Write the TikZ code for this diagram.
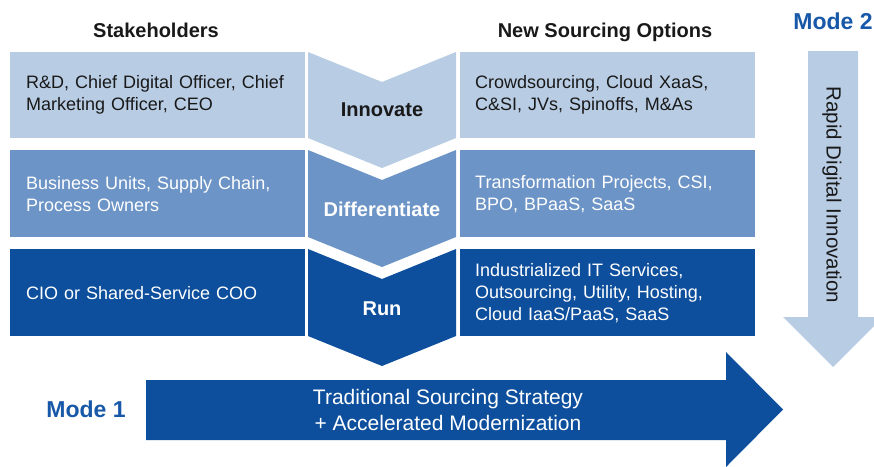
\documentclass[tikz,border=0pt]{standalone}
\usepackage{fontspec}
\setmainfont{Liberation Sans}
\definecolor{rowone}{RGB}{184,204,228}
\definecolor{rowtwo}{RGB}{108,148,198}
\definecolor{rowthree}{RGB}{13,79,156}
\definecolor{modeblue}{RGB}{24,88,168}
\definecolor{darktext}{RGB}{25,25,25}

\begin{document}
\begin{tikzpicture}[x=1pt,y=-1pt,
    celltext/.style={font=\fontsize{18}{22}\selectfont, align=left, anchor=west, text width=280pt, inner sep=0pt},
    steplabel/.style={font=\bfseries\fontsize{20}{24}\selectfont, inner sep=0pt},
    headlabel/.style={font=\bfseries\fontsize{20}{24}\selectfont, text=darktext, inner sep=0pt},
    modelabel/.style={font=\bfseries\fontsize{23}{27}\selectfont, text=modeblue, inner sep=0pt}]
    \clip(0,0)rectangle(874,466);
    \fill[white](0,0)rectangle(874,466);
    % rows of boxes and chevrons
    \fill[rowone](10,52)rectangle(305,138);
    \fill[rowone](460,52)rectangle(755,138);
    \fill[rowtwo](10,150)rectangle(305,237);
    \fill[rowtwo](460,150)rectangle(755,237);
    \fill[rowthree](10,249)rectangle(305,336);
    \fill[rowthree](460,249)rectangle(755,336);
    \foreach \t/\b/\c in {52/138/rowone,150/237/rowtwo,249/336/rowthree}
        \fill[\c](308,\t)--(382,\t+30)--(456,\t)--(456,\b)--(382,\b+30)--(308,\b)--cycle;
    % mode 2 arrow
    \fill[rowone](808,51)--(858,51)--(858,317)--(883,317)--(833,367)--(783,317)--(808,317)--cycle;
    % mode 1 arrow
    \fill[rowthree](146,380)--(726,380)--(726,352)--(783,409.5)--(726,467)--(726,440)--(146,440)--cycle;
    % texts
    \node[headlabel](stake)at(156,30){Stakeholders};
    \node[headlabel](newsrc)at(605,32){New Sourcing Options};
    \node[modelabel](modetwo)at(833,21){Mode 2};
    \node[modelabel](modeone)at(86,409){Mode 1};
    \node[celltext,text=darktext](rdcell)at(26,95){R\&D, Chief Digital Officer, Chief\\Marketing Officer, CEO};
    \node[celltext,text=white](bucell)at(26,194){Business Units, Supply Chain,\\Process Owners};
    \node[celltext,text=white](ciocell)at(26,293){CIO or Shared-Service COO};
    \node[celltext,text=darktext](crowdcell)at(475,95){Crowdsourcing, Cloud XaaS,\\C\&SI, JVs, Spinoffs, M\&As};
    \node[celltext,text=white](transcell)at(475,194){Transformation Projects, CSI,\\BPO, BPaaS, SaaS};
    \node[celltext,text=white](induscell)at(475,293){Industrialized IT Services,\\Outsourcing, Utility, Hosting,\\Cloud IaaS/PaaS, SaaS};
    \node[steplabel,text=darktext](innovate)at(382,110){Innovate};
    \node[steplabel,text=white](differ)at(382,209){Differentiate};
    \node[steplabel,text=white](run)at(382,309){Run};
    \node[font=\fontsize{20.5}{26}\selectfont,text=darktext,rotate=-90,inner sep=0pt](rapid)at(832,195){Rapid Digital Innovation};
    \node[font=\fontsize{21}{26}\selectfont,text=white,align=center,inner sep=0pt](trad)at(448,410){Traditional Sourcing Strategy\\+ Accelerated Modernization};
\end{tikzpicture}
\end{document}
